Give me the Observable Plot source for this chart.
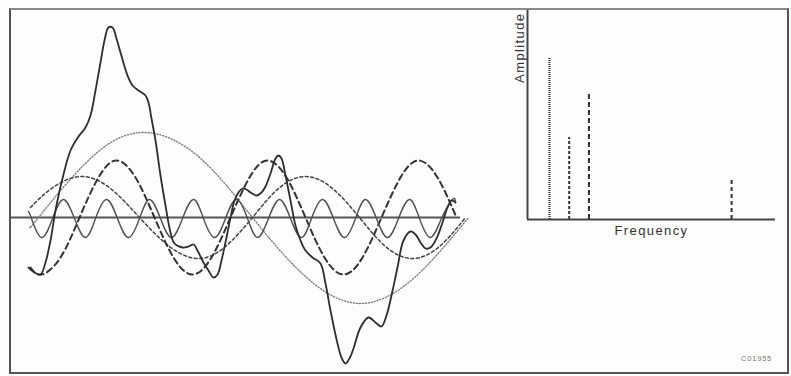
<!DOCTYPE html>
<html><head><meta charset="utf-8">
<script src="https://cdn.jsdelivr.net/npm/d3@7"></script>
<script src="https://cdn.jsdelivr.net/npm/@observablehq/plot@0.6"></script>
<style>
body{margin:0;background:#fff;}
#wrap{position:relative;width:791px;height:376px;background:#fdfdfd;overflow:hidden;font-family:"Liberation Sans",Arial,sans-serif;}
#left,#right{position:absolute;top:0;}
#left{left:0;}
#right{left:500px;}
#box{position:absolute;left:9px;top:8px;width:780px;height:366px;box-sizing:border-box;border:2px solid #555;border-top-color:#8a8a8a;pointer-events:none;}
#code{position:absolute;left:741px;top:354px;font-size:7.5px;letter-spacing:0.8px;color:#777;}
</style></head><body>
<div id="wrap"><div id="left"></div><div id="right"></div><div id="box"></div><div id="code">C01955</div></div>
<script>
// ---- time-domain signals: [time, amplitude] ----
const sumSignal = [[0,-50],[6,-55],[12,-57],[17,-45],[22,-23],[27,7],[34,39],[42,67],[50,81],[57,90],[62,102],[67,127],[72,155],[76,177],[80,190],[84,190],[88,179],[92,165],[99,142],[104,132],[110,127],[117,122],[120,115],[123,99],[127,77],[132,42],[137,12],[142,-15],[146,-26],[154,-30],[160,-29],[165,-27],[170,-35],[175,-45],[180,-53],[185,-60],[189,-57],[193,-43],[198,-20],[202,0],[206,17],[210,25],[214,29],[218,28],[222,25],[228,22],[233,25],[237,31],[242,44],[247,59],[250,62],[253,59],[257,42],[262,17],[267,-8],[272,-23],[277,-33],[284,-40],[292,-46],[297,-66],[302,-93],[309,-126],[313,-140],[317,-146],[321,-141],[325,-131],[332,-110],[340,-100],[347,-105],[353,-109],[358,-98],[363,-78],[369,-50],[375,-23],[382,-14],[387,-17],[392,-25],[397,-31],[402,-30],[408,-21],[414,-5],[419,10],[423,17],[427,15]];
const slowWave = [[2,-9],[10,0],[63,60],[117,85],[171,60],[224,0],[278,-60],[332,-86],[386,-60],[440,0]];
const midWave = [[2,10],[23,29],[52,41],[82,29],[111,0],[141,-29],[170,-41],[197,-29],[224,0],[250,29],[277,41],[304,29],[331,0],[357,-29],[384,-41],[411,-29],[437,0]];
const thirdWave = [[2,-50],[13,-57],[32,-40],[51,0],[70,40],[88,57],[107,40],[126,0],[145,-40],[164,-57],[183,-40],[202,0],[221,40],[239,57],[258,40],[277,0],[296,-40],[315,-57],[334,-40],[353,0],[372,40],[390,57],[409,40],[428,0]];
const fastWave = [[0,6],[3,-1],[13,-20],[24,-1],[35,18],[46,-1],[57,-20],[67,-1],[78,18],[89,-1],[100,-20],[111,-1],[121,18],[132,-1],[143,-20],[154,-1],[165,18],[175,-1],[186,-20],[197,-1],[208,18],[219,-1],[229,-20],[240,-1],[251,18],[262,-1],[273,-20],[283,-1],[294,18],[305,-1],[316,-20],[327,-1],[337,18],[348,-1],[359,-20],[370,-1],[381,18],[391,-1],[402,-20],[413,-1],[424,18],[427,16]];
const timeDomain = [-18, 432];

// ---- spectrum ----
const freqs = [1.0, 1.9, 2.8, 9.3];
const amps = [8.1, 4.1, 6.3, 2.05];
const stemDash = ["1,1", "3,2", "5,3", "4,3"];
const labels = {x: "Frequency", y: "Amplitude"};

const ink = "#2e2e2e";
const X = d => d[0], Y = d => d[1];

const left = Plot.plot({
  width: 480, height: 376,
  marginLeft: 10, marginRight: 20, marginTop: 0, marginBottom: 0,
  x: {domain: timeDomain, axis: null},
  y: {domain: [-159, 217], axis: null},
  style: {background: "transparent"},
  marks: [
    Plot.ruleY([0], {stroke: "#555", strokeWidth: 2}),
    Plot.line(slowWave, {x: X, y: Y, curve: "natural", stroke: "#777", strokeWidth: 1.3, strokeDasharray: "1.2,1.8"}),
    Plot.line(midWave, {x: X, y: Y, curve: "natural", stroke: "#444", strokeWidth: 1.5, strokeDasharray: "3,2.5"}),
    Plot.line(thirdWave, {x: X, y: Y, curve: "natural", stroke: "#333", strokeWidth: 2, strokeDasharray: "6,4"}),
    Plot.line(fastWave, {x: X, y: Y, curve: "natural", stroke: "#505050", strokeWidth: 1.4}),
    Plot.line(sumSignal, {x: X, y: Y, curve: "catmull-rom", stroke: ink, strokeWidth: 1.8})
  ]
});
document.getElementById("left").appendChild(left);

const spectrum = freqs.map((f, i) => ({f, a: amps[i], i}));
const right = Plot.plot({
  width: 291, height: 376,
  marginLeft: 27, marginRight: 16, marginTop: 10, marginBottom: 157,
  x: {domain: [0, 11.3], axis: null},
  y: {domain: [0, 10.45], axis: null},
  style: {background: "transparent", letterSpacing: "1.4px"},
  marks: [
    ...spectrum.map(s => Plot.ruleX([s], {x: "f", y1: 0, y2: "a", stroke: s.i === 0 ? "#222" : "#333", strokeWidth: 2, strokeDasharray: stemDash[s.i]})),
    Plot.ruleY([0], {stroke: "#444", strokeWidth: 2}),
    Plot.ruleX([0], {stroke: "#444", strokeWidth: 2}),
    Plot.text([labels.x], {frameAnchor: "bottom", lineAnchor: "middle", dy: 11, fontSize: 13, fill: "#333", fontFamily: "Liberation Sans, Arial, sans-serif"}),
    Plot.text([labels.y], {frameAnchor: "top-left", rotate: -90, textAnchor: "end", lineAnchor: "middle", dx: -8, dy: 2, fontSize: 13, fill: "#333", fontFamily: "Liberation Sans, Arial, sans-serif"})
  ]
});
document.getElementById("right").appendChild(right);
</script></body></html>
